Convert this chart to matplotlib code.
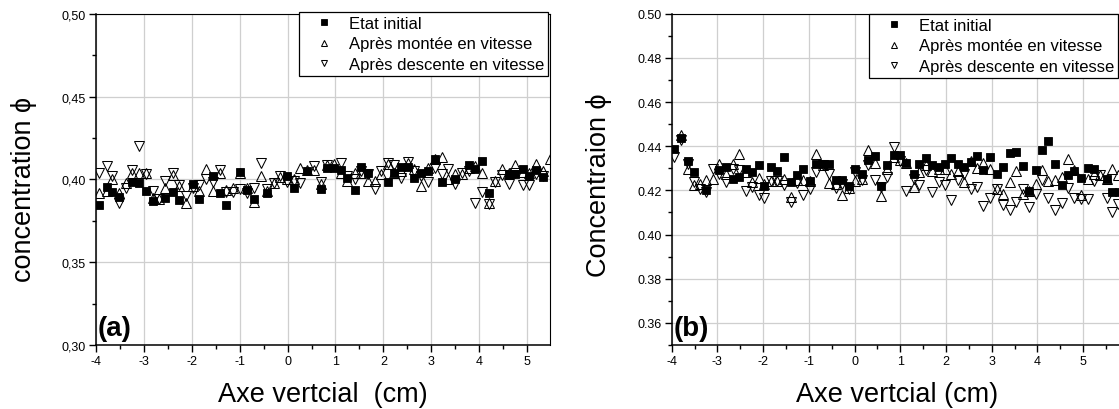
import matplotlib
matplotlib.use("Agg")
import matplotlib.pyplot as plt
from matplotlib.ticker import MultipleLocator, FuncFormatter

# ---------------- data : panel (a) ----------------
xa_init = [-3.93,-3.78,-3.66,-3.52,-3.24,-3.10,-2.96,-2.81,-2.55,-2.40,-2.26,-1.97,-1.84,-1.55,-1.42,
           -1.29,-0.99,-0.85,-0.70,-0.43,-0.01,0.13,0.41,0.69,0.82,0.97,1.12,1.25,1.40,1.54,
           1.68,2.09,2.23,2.37,2.51,2.65,2.79,2.93,3.07,3.23,3.49,3.78,3.92,4.07,4.20,
           4.62,4.75,4.91,5.04,5.19,5.34]
ya_init = [0.3845,0.3956,0.3925,0.3895,0.3984,0.3978,0.393,0.387,0.3885,0.3925,0.3877,0.3974,0.3883,0.402,0.392,
           0.3845,0.4046,0.3935,0.388,0.3915,0.4018,0.395,0.405,0.394,0.407,0.407,0.4055,0.401,0.3935,0.4077,
           0.404,0.3984,0.404,0.4075,0.4075,0.4006,0.4036,0.405,0.4125,0.3984,0.400,0.4087,0.4065,0.411,0.3915,
           0.4034,0.4034,0.406,0.402,0.4056,0.4014]

xa_up = [-3.93,-3.78,-3.66,-3.52,-3.37,-3.24,-3.10,-2.96,-2.81,-2.68,-2.55,-2.40,-2.26,-2.12,-1.97,-1.84,
         -1.70,-1.55,-1.42,-1.29,-1.14,-0.99,-0.85,-0.70,-0.56,-0.43,-0.29,-0.16,-0.01,0.13,0.27,0.41,
         0.55,0.69,0.82,0.97,1.12,1.25,1.40,1.54,1.68,1.82,1.95,2.09,2.23,2.37,2.51,2.65,
         2.79,2.93,3.07,3.23,3.36,3.49,3.64,3.78,3.92,4.07,4.20,4.33,4.48,4.62,4.75,4.91,
         5.04,5.19,5.34,5.48]
ya_up = [0.392,0.393,0.400,0.392,0.398,0.404,0.4036,0.4036,0.3885,0.388,0.395,0.4026,0.396,0.386,0.396,0.393,
         0.4065,0.393,0.404,0.3935,0.3945,0.404,0.3945,0.3865,0.402,0.393,0.398,0.4016,0.4004,0.400,0.407,0.4055,
         0.4055,0.3974,0.4087,0.4095,0.4038,0.399,0.4036,0.404,0.399,0.399,0.403,0.4095,0.4036,0.405,0.410,0.4065,
         0.396,0.407,0.412,0.4135,0.4004,0.403,0.403,0.407,0.408,0.4036,0.386,0.399,0.4065,0.404,0.4085,0.4046,
         0.404,0.409,0.405,0.412]

xa_down = [-3.93,-3.78,-3.66,-3.52,-3.37,-3.24,-3.10,-2.96,-2.81,-2.68,-2.55,-2.40,-2.26,-2.12,-1.97,-1.84,
           -1.70,-1.55,-1.42,-1.29,-1.14,-0.99,-0.85,-0.70,-0.56,-0.43,-0.29,-0.16,-0.01,0.13,0.27,
           0.55,0.69,0.82,1.12,1.25,1.40,1.54,1.68,1.82,1.95,2.09,2.23,2.37,2.51,2.65,
           2.79,2.93,3.07,3.23,3.36,3.49,3.64,3.78,3.92,4.07,4.20,4.33,4.48,4.62,4.75,4.91,
           5.04,5.19,5.34]
ya_down = [0.404,0.408,0.402,0.3855,0.395,0.4056,0.420,0.4034,0.393,0.388,0.399,0.404,0.3964,0.390,0.395,0.3966,
           0.400,0.3986,0.4055,0.3925,0.3925,0.394,0.3915,0.395,0.410,0.3944,0.398,0.402,0.3986,0.399,0.398,
           0.408,0.3986,0.4087,0.410,0.402,0.400,0.405,0.403,0.394,0.405,0.410,0.4087,0.401,0.4105,0.405,
           0.402,0.3986,0.407,0.4034,0.406,0.3974,0.404,0.405,0.386,0.3925,0.385,0.3986,0.4024,0.3974,0.404,0.3966,
           0.3966,0.403,0.402]

# ---------------- data : panel (b) ----------------
xb_init = [-3.94,-3.79,-3.65,-3.51,-3.24,-2.96,-2.81,-2.66,-2.52,-2.38,-2.24,-2.10,-1.97,-1.82,-1.69,-1.54,
           -1.39,-1.25,-1.12,-0.98,-0.84,-0.70,-0.56,-0.41,-0.27,-0.13,0.01,0.16,0.29,0.44,0.58,0.71,
           0.86,1.00,1.13,1.29,1.42,1.56,1.70,1.84,1.98,2.12,2.26,2.40,2.54,2.68,2.82,2.97,
           3.11,3.25,3.39,3.53,3.68,3.82,3.96,4.10,4.24,4.38,4.53,4.67,4.81,4.96,5.10,5.24,
           5.52,5.64,5.78]
yb_init = [0.4386,0.4437,0.4333,0.4282,0.420,0.4291,0.4306,0.4251,0.4262,0.4295,0.4282,0.4316,0.4218,0.4304,0.4288,0.4352,
           0.4236,0.4268,0.4297,0.4242,0.4319,0.4319,0.4319,0.4249,0.4249,0.422,0.4298,0.4276,0.4336,0.4354,0.422,0.4316,
           0.4361,0.4358,0.4322,0.4274,0.4319,0.4346,0.4315,0.4306,0.4319,0.4348,0.4319,0.4306,0.4328,0.4357,0.4291,0.4351,
           0.4274,0.4306,0.4369,0.4375,0.4312,0.4199,0.4291,0.4384,0.4423,0.4318,0.4226,0.427,0.4289,0.4258,0.4303,0.4298,
           0.4253,0.4193,0.4193]

xb_up = [-3.79,-3.65,-3.51,-3.37,-3.24,-3.09,-2.96,-2.81,-2.66,-2.52,-2.38,-2.24,-2.10,-1.97,-1.82,-1.69,
         -1.54,-1.39,-1.25,-1.12,-0.98,-0.84,-0.70,-0.56,-0.41,-0.27,-0.13,0.01,0.16,0.29,0.44,0.58,
         0.71,0.86,1.00,1.13,1.29,1.42,1.56,1.70,1.84,1.98,2.12,2.26,2.40,2.54,2.68,2.82,
         2.97,3.11,3.25,3.39,3.53,3.68,3.82,3.96,4.10,4.24,4.38,4.53,4.67,4.81,4.96,5.10,
         5.24,5.37,5.52,5.64,5.76]
yb_up = [0.4449,0.4298,0.4223,0.423,0.4248,0.4253,0.4318,0.4276,0.4318,0.4363,0.4283,0.4238,0.4258,0.4227,0.4242,0.4242,
         0.4253,0.417,0.4245,0.4245,0.4241,0.4366,0.4313,0.4233,0.4227,0.4181,0.4211,0.4241,0.4253,0.4381,0.4324,0.4175,
         0.4298,0.4351,0.4339,0.4324,0.4215,0.4283,0.4313,0.4288,0.4295,0.4295,0.4276,0.4288,0.4238,0.4331,0.4301,0.4324,
         0.4295,0.4208,0.4185,0.4238,0.4286,0.4185,0.4196,0.423,0.4291,0.4242,0.4245,0.426,0.4343,0.4291,0.4181,0.4253,
         0.4276,0.4268,0.4253,0.4298,0.4268]

xb_down = [-3.94,-3.79,-3.65,-3.51,-3.37,-3.24,-3.09,-2.96,-2.81,-2.66,-2.52,-2.38,-2.24,-2.10,-1.97,-1.82,
           -1.69,-1.54,-1.39,-1.25,-1.12,-0.98,-0.84,-0.70,-0.56,-0.41,-0.27,-0.13,0.01,0.16,0.29,0.44,
           0.58,0.71,0.86,1.00,1.13,1.29,1.42,1.56,1.70,1.84,1.98,2.12,2.26,2.40,2.54,2.68,
           2.82,2.97,3.11,3.25,3.39,3.53,3.68,3.82,3.96,4.10,4.24,4.38,4.53,4.67,4.81,4.96,
           5.10,5.24,5.37,5.52,5.64,5.76]
yb_down = [0.4351,0.4426,0.4321,0.4238,0.4208,0.4193,0.4298,0.4276,0.4238,0.4298,0.4291,0.4196,0.4215,0.4181,0.4167,0.4242,
           0.4242,0.4223,0.4148,0.4233,0.4178,0.4208,0.4283,0.4313,0.4276,0.4212,0.423,0.4208,0.4283,0.4245,0.4313,0.4249,
           0.4215,0.426,0.4396,0.4333,0.4196,0.4253,0.4223,0.4291,0.4193,0.4238,0.4226,0.4155,0.4245,0.4276,0.4208,0.4215,
           0.413,0.4166,0.4205,0.4136,0.411,0.4148,0.4205,0.4125,0.4185,0.4245,0.4167,0.411,0.4145,0.4211,0.4167,0.4163,
           0.4163,0.4241,0.4268,0.4166,0.4102,0.414]

labels = ["Etat initial", "Après montée en vitesse", "Après descente en vitesse"]
xticks = [-4, -3, -2, -1, 0, 1, 2, 3, 4, 5]

# ---------------- figure ----------------
W, H = 1119, 410
plt.rcParams['font.family'] = ['Liberation Sans', 'DejaVu Sans']
plt.rcParams['axes.unicode_minus'] = False
fig = plt.figure(figsize=(W / 100, H / 100), dpi=100)

def fx(px):
    return px / W

def fy(py):
    return 1 - py / H

axA = fig.add_axes([fx(96), fy(346), (550 - 96) / W, (346 - 14.7) / H])
axB = fig.add_axes([fx(671.7), fy(346), (1121.5 - 671.7) / W, (346 - 14.7) / H])

def style(ax, xr, ylim, ymajor, yminor, sep):
    ax.set_xlim(-4, xr)
    ax.set_ylim(*ylim)
    ax.set_xticks(xticks)
    ax.xaxis.set_minor_locator(MultipleLocator(0.5))
    ax.yaxis.set_major_locator(MultipleLocator(ymajor))
    ax.yaxis.set_minor_locator(MultipleLocator(yminor))
    ax.yaxis.set_major_formatter(FuncFormatter(lambda v, p: ("%.2f" % v).replace(".", sep)))
    ax.grid(True, which='major', color='#cfcfcf', lw=0.9)
    ax.set_axisbelow(True)
    ax.tick_params(which='major', direction='out', length=4.8, width=1.0, labelsize=9, pad=2.5,
                   top=False, right=False)
    ax.tick_params(which='minor', direction='out', length=2.6, width=1.0, top=False, right=False)
    for s in ['left', 'bottom']:
        ax.spines[s].set_linewidth(1.1)
    for s in ['top', 'right']:
        ax.spines[s].set_linewidth(0.8)

def draw(ax, xi, yi, xu, yu, xd, yd):
    ax.plot(xi, yi, ls='none', marker='s', ms=5.3, mfc='black', mec='black', mew=0.6, label=labels[0], zorder=3)
    ax.plot(xu, yu, ls='none', marker='^', ms=6.6, mfc='none', mec='black', mew=0.75, label=labels[1], zorder=4)
    ax.plot(xd, yd, ls='none', marker='v', ms=6.6, mfc='none', mec='black', mew=0.75, label=labels[2], zorder=5)

style(axA, 5.48, (0.30, 0.50), 0.05, 0.025, ",")
style(axB, 5.84, (0.35, 0.50), 0.02, 0.01, ".")
draw(axA, xa_init, ya_init, xa_up, ya_up, xa_down, ya_down)
draw(axB, xb_init, yb_init, xb_up, yb_up, xb_down, yb_down)

for ax, anchor in [(axA, (fx(548), fy(12.7))), (axB, (fx(1118), fy(14.7)))]:
    leg = ax.legend(loc='upper right', bbox_to_anchor=anchor, bbox_transform=fig.transFigure,
                    fontsize=12, markerscale=0.7, frameon=True, fancybox=False, framealpha=1,
                    edgecolor='black', borderpad=0.25, handlelength=2.6, handletextpad=0.15,
                    labelspacing=0.33, borderaxespad=0)
    leg.get_frame().set_linewidth(0.9)
    leg.set_zorder(10)

axA.text(0.004, 0.012, "(a)", transform=axA.transAxes, fontsize=20, fontweight='bold',
         ha='left', va='bottom')
axB.text(0.004, 0.012, "(b)", transform=axB.transAxes, fontsize=20, fontweight='bold',
         ha='left', va='bottom')

fig.text(fx(323), fy(402), "Axe vertcial  (cm)", fontsize=19.5, ha='center', va='baseline')
fig.text(fx(897), fy(402.5), "Axe vertcial (cm)", fontsize=19.5, ha='center', va='baseline')
fig.text(fx(24), fy(190), "concentration \u03d5", fontsize=19.5, rotation=90, ha='center', va='center')
fig.text(fx(599), fy(185), "Concentraion \u03d5", fontsize=19.5, rotation=90, ha='center', va='center')

fig.savefig("out.png", dpi=100)
